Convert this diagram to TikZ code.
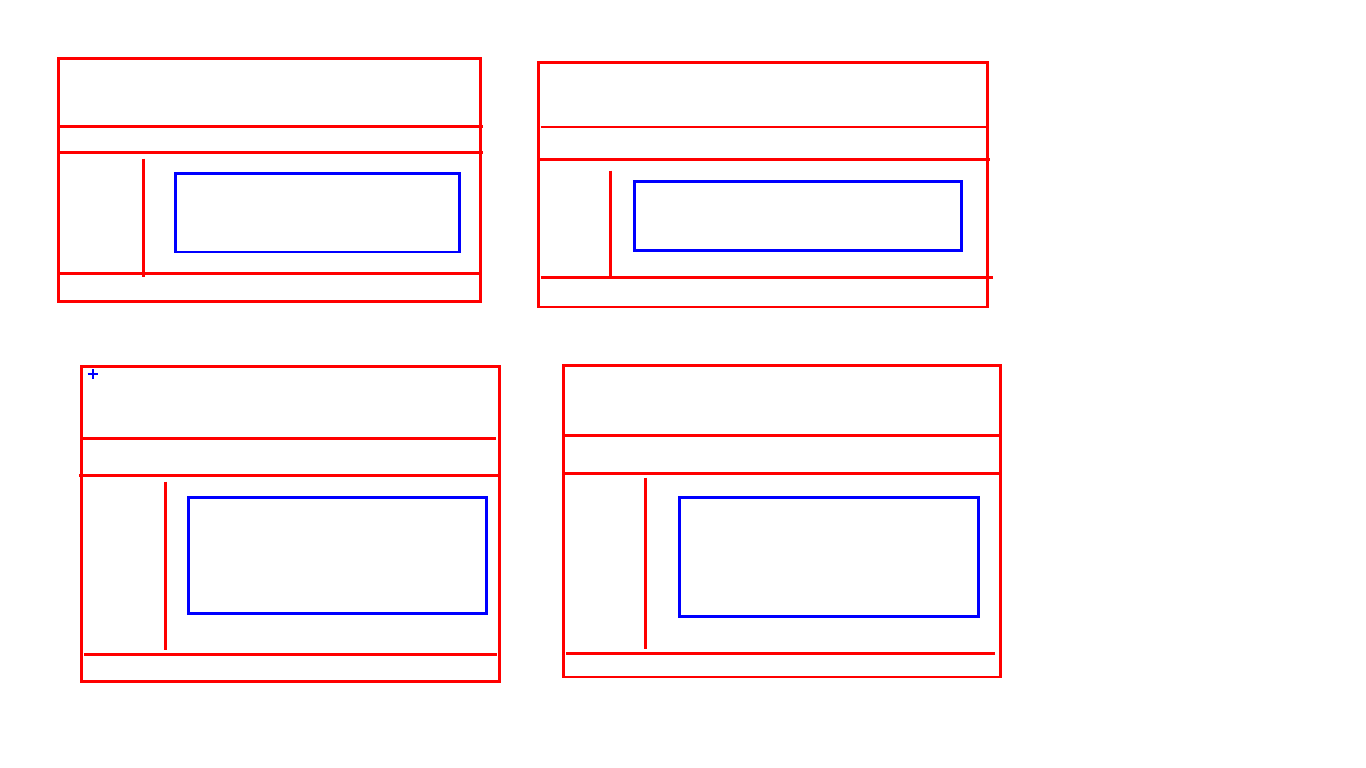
\documentclass[tikz,border=0pt]{standalone}
\begin{document}
\begin{tikzpicture}[x=1pt,y=-1pt,
  frame/.style={draw=red,line width=2.8pt},
  rule/.style={draw=red,line width=2.6pt},
  inner/.style={draw=blue,line width=2.6pt},
  marker/.style={draw=blue,line width=1.8pt}]
\useasboundingbox[fill=white] (0,0) rectangle (1366,768);

% Panel 1 (top left)
\draw[frame] (58.3,58.3) rectangle (480.3,301.3);
\draw[rule] (58.3,126.3) -- (483.3,126.3);
\draw[rule] (58.3,152.3) -- (482.7,152.3);
\draw[rule] (58.3,273.3) -- (480.3,273.3);
\draw[rule] (143.3,158.7) -- (143.3,277.3);
\draw[inner] (175.3,173.7) rectangle (459.3,252);

% Panel 2 (top right)
\draw[frame] (538.3,62.3) rectangle (987.7,307);
\draw[rule] (540.7,127) -- (987.7,127);
\draw[rule] (538.3,159.3) -- (990,159.3);
\draw[rule] (540.7,277.3) -- (993.3,277.3);
\draw[rule] (610.3,170.7) -- (610.3,277.3);
\draw[inner] (634.3,181.3) rectangle (961.7,250.3);

% Panel 3 (bottom left)
\draw[frame] (81.3,366.3) rectangle (499.3,681.3);
\draw[rule] (81.3,438.3) -- (496,438.3);
\draw[rule] (79.3,475.3) -- (499.3,475.3);
\draw[rule] (84,654.3) -- (496.7,654.3);
\draw[rule] (165.3,481.7) -- (165.3,650);
\draw[inner] (188.3,497.7) rectangle (486.7,613.3);
\draw[marker] (87.7,374) -- (97.7,374) (92.7,369) -- (92.7,379);

% Panel 4 (bottom right)
\draw[frame] (563.3,365.3) rectangle (1000.3,677);
\draw[rule] (563.3,435.3) -- (1002.3,435.3);
\draw[rule] (563.3,473.3) -- (1000.3,473.3);
\draw[rule] (566,653.3) -- (995,653.3);
\draw[rule] (645.3,477.7) -- (645.3,649);
\draw[inner] (679.3,497.3) rectangle (978.3,616.3);
\end{tikzpicture}
\end{document}
